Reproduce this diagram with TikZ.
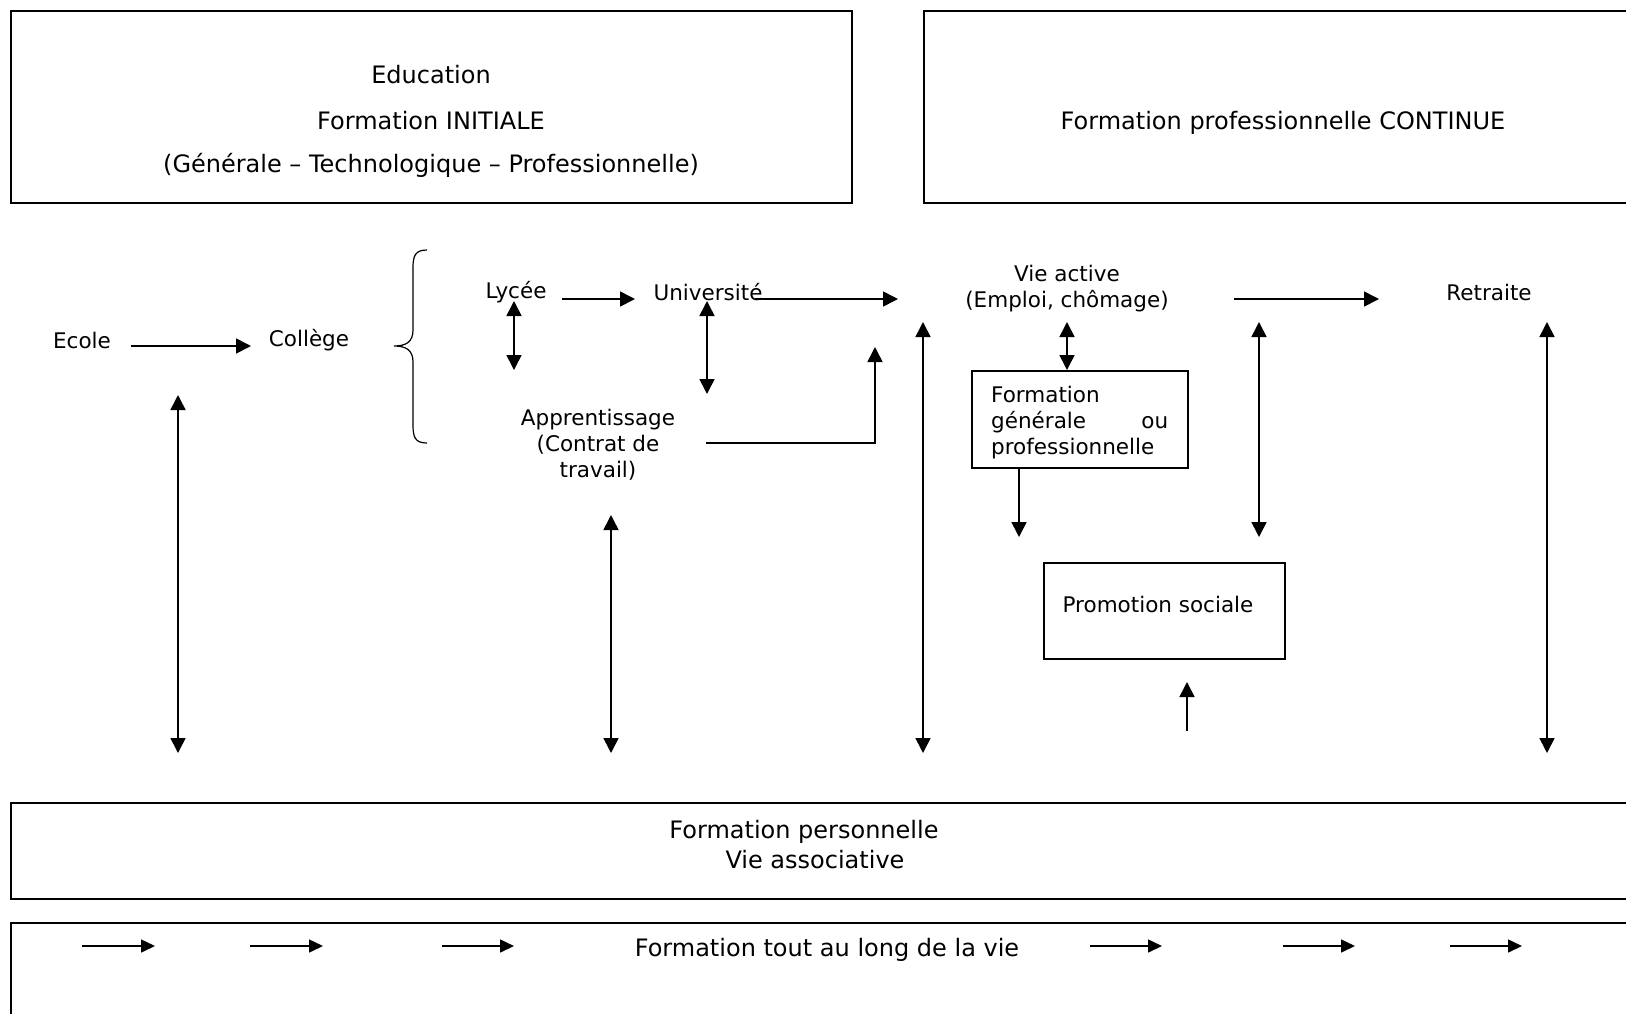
\documentclass[tikz,border=0pt]{standalone}
\usepackage{fontspec}
\setmainfont{DejaVu Sans}
\usetikzlibrary{arrows.meta}
\begin{document}
\begin{tikzpicture}[x=1pt,y=-1pt,
  txt/.style={font=\fontsize{21.5}{26}\selectfont, inner sep=0pt, align=center},
  htxt/.style={font=\fontsize{24}{29}\selectfont, inner sep=0pt, align=center},
  frame/.style={draw, line width=1.7pt, inner sep=0pt, anchor=north west},
  conn/.style={line width=1.6pt, -{Triangle[length=15pt,width=15pt]}},
  dconn/.style={line width=1.6pt, {Triangle[length=15pt,width=15pt]}-{Triangle[length=15pt,width=15pt]}},
  sconn/.style={line width=1.6pt, -{Triangle[length=14pt,width=13pt]}}]
\clip (0,0) rectangle (1626,1013);
\fill[white] (0,0) rectangle (1626,1013);

% top boxes
\node[frame, minimum width=841pt, minimum height=192pt] (binit) at (10,10) {};
\node[htxt] (educ) at (431,75) {Education};
\node[htxt] (finit) at (431,121) {Formation INITIALE};
\node[htxt] (gtp) at (431,165) {(Générale – Technologique – Professionnelle)};
\node[frame, minimum width=730pt, minimum height=192pt] (bcont) at (923,10) {};
\node[htxt] (fcont) at (1283,123) {Formation professionnelle CONTINUE};

% row nodes
\node[txt] (ecole) at (82,340) {Ecole};
\node[txt] (college) at (309,340) {Collège};
\node[txt] (lycee) at (516,292) {Lycée};
\node[txt] (univ) at (708,292) {Université};
\node[txt] (vie) at (1067,289) {Vie active\\(Emploi, chômage)};
\node[txt] (retraite) at (1489,292) {Retraite};
\node[txt] (appr) at (598,445) {Apprentissage\\(Contrat de\\travail)};

% brace
\draw[line width=1.2pt] (427,250) .. controls (415,250) and (413,256) .. (413,268)
  -- (413,330) .. controls (413,342) and (406,346) .. (394,346)
  .. controls (406,346) and (413,350) .. (413,362)
  -- (413,425) .. controls (413,437) and (415,443) .. (427,443);

% boxes middle
\node[frame, minimum width=216pt, minimum height=97pt] (fgp) at (971,370) {};
\node[txt, anchor=north west, align=left] (fgptxt) at (991,386)
  {Formation\\\makebox[177pt][s]{générale\hfill ou}\\professionnelle};
\node[frame, minimum width=241pt, minimum height=96pt] (promo) at (1043,562) {};
\node[txt] (promotxt) at (1158,604) {Promotion sociale};

% bottom boxes
\node[frame, minimum width=1640pt, minimum height=96pt] (bpers) at (10,802) {};
\node[htxt] (fpers) at (804,832) {Formation personnelle};
\node[htxt] (vasso) at (815,860) {Vie associative};
\node[frame, minimum width=1640pt, minimum height=200pt] (blong) at (10,922) {};
\node[htxt] (flong) at (827,950) {Formation tout au long de la vie};

% coordinates
\coordinate (a1s) at (131,346); \coordinate (a1e) at (251,346);
\coordinate (a2s) at (562,299); \coordinate (a2e) at (635,299);
\coordinate (a3s) at (755,299); \coordinate (a3e) at (898,299);
\coordinate (a4s) at (1234,299); \coordinate (a4e) at (1379,299);
\coordinate (ly1) at (514,301); \coordinate (ly2) at (514,370);
\coordinate (un1) at (707,301); \coordinate (un2) at (707,394);
\coordinate (ap1) at (706,443); \coordinate (ap2) at (875,347);
\coordinate (va1) at (1067,322);
\coordinate (fg1) at (1019,467); \coordinate (fg2) at (1019,537);
\coordinate (r1) at (1259,322); \coordinate (r2) at (1259,537);
\coordinate (pu1) at (1187,731); \coordinate (pu2) at (1187,682);
\coordinate (v1a) at (178,395); \coordinate (v1b) at (178,753);
\coordinate (v2a) at (611,515); \coordinate (v2b) at (611,753);
\coordinate (v3a) at (923,322); \coordinate (v3b) at (923,753);
\coordinate (v4a) at (1547,322); \coordinate (v4b) at (1547,753);

% connectors
\draw[conn] (a1s) -- (a1e);
\draw[conn] (a2s) -- (a2e);
\draw[conn] (a3s) -- (a3e);
\draw[conn] (a4s) -- (a4e);
\draw[dconn] (ly1) -- (ly2);
\draw[dconn] (un1) -- (un2);
\draw[conn] (ap1) -| (ap2);
\draw[dconn] (va1) -- (va1 |- fgp.north);
\draw[conn] (fg1) -- (fg2);
\draw[dconn] (r1) -- (r2);
\draw[conn] (pu1) -- (pu2);
\draw[dconn] (v1a) -- (v1b);
\draw[dconn] (v2a) -- (v2b);
\draw[dconn] (v3a) -- (v3b);
\draw[dconn] (v4a) -- (v4b);

% bottom arrows
\foreach \i/\xa/\xb in {1/82/155, 2/250/323, 3/442/514, 4/1090/1162, 5/1283/1355, 6/1450/1522} {
  \coordinate (b\i s) at (\xa,946); \coordinate (b\i e) at (\xb,946);
  \draw[sconn] (b\i s) -- (b\i e);
}
\end{tikzpicture}
\end{document}
